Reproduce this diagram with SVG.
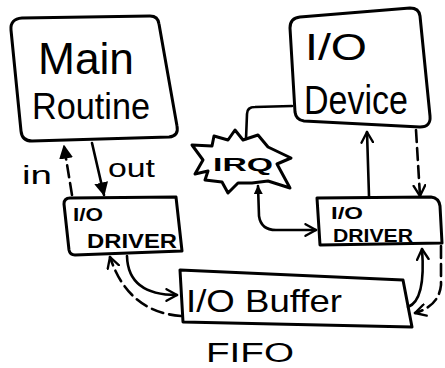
<svg xmlns="http://www.w3.org/2000/svg" width="445" height="368" viewBox="0 0 445 368">
<style>
.box{fill:none;stroke:#000;stroke-width:3;stroke-linejoin:round;stroke-linecap:round}
.ln{fill:none;stroke:#000;stroke-width:2.6;stroke-linecap:round}
.dash{stroke-dasharray:12 6}
.t{font-family:"Liberation Sans","DejaVu Sans",sans-serif;fill:#000}
</style>
<defs>
<marker id="fa" viewBox="0 0 10 10" refX="9" refY="5" markerWidth="14" markerHeight="14" markerUnits="userSpaceOnUse" orient="auto-start-reverse">
<path d="M0,0 L10,5 L0,10 z" fill="#000"/>
</marker>
<marker id="fs" viewBox="0 0 10 10" refX="9" refY="5" markerWidth="9" markerHeight="9" markerUnits="userSpaceOnUse" orient="auto-start-reverse">
<path d="M0,0 L10,5 L0,10 z" fill="#000"/>
</marker>
<marker id="oa" viewBox="0 0 12 12" refX="10" refY="6" markerWidth="14" markerHeight="14" markerUnits="userSpaceOnUse" orient="auto-start-reverse">
<path d="M1,1 L10,6 L1,11" fill="none" stroke="#000" stroke-width="2" stroke-linecap="round" stroke-linejoin="round"/>
</marker>
</defs>
<rect width="445" height="368" fill="#fff"/>
<g id="main-routine">
<path class="box" d="M22,18 L150,16 Q158,16 159,24 L177,126 Q179,136 169,137 L32,141 Q22,141 21,131 L11,30 Q10,19 22,18 z"/>
<text class="t" x="38" y="74" font-size="44" textLength="96" lengthAdjust="spacingAndGlyphs">Main</text>
<text class="t" x="32" y="119" font-size="36" textLength="118" lengthAdjust="spacingAndGlyphs">Routine</text>
</g>
<g id="io-device">
<path class="box" d="M300,17 L410,8 Q419,8 420,16 L430,116 Q431,127 420,127 L304,121 Q296,120 295,112 L290,28 Q290,18 300,17 z"/>
<text class="t" x="305" y="60" font-size="36" textLength="62" lengthAdjust="spacingAndGlyphs">I/O</text>
<text class="t" x="304" y="114" font-size="40" textLength="104" lengthAdjust="spacingAndGlyphs">Device</text>
</g>
<g id="irq">
<path class="box" d="M192,145 L212,146 L214,136 L228,140 L235,130 L243,140 L258,135 L268,147 L291,158 L277,164 L290,188 L268,181 L252,183 L238,183 L228,193 L222,182 L205,180 L208,171 L195,174 L203,160 z"/>
<text class="t" x="213" y="171" font-size="19" font-weight="bold" textLength="60" lengthAdjust="spacingAndGlyphs">IRQ</text>
</g>
<g id="driver-left">
<path class="box" d="M70,198 L176,197 L182,251 L75,255 Q70,255 69,250 L64,204 Q64,198 70,198 z"/>
<text class="t" x="73" y="221" font-size="19" font-weight="bold" textLength="30" lengthAdjust="spacingAndGlyphs">I/O</text>
<text class="t" x="87" y="248" font-size="20" font-weight="bold" textLength="90" lengthAdjust="spacingAndGlyphs">DRIVER</text>
</g>
<g id="driver-right">
<path class="box" d="M317,198 L431,197 Q439,198 440,206 L442,243 L320,245 z"/>
<text class="t" x="331" y="219" font-size="16" font-weight="bold" textLength="32" lengthAdjust="spacingAndGlyphs">I/O</text>
<text class="t" x="333" y="242" font-size="18" font-weight="bold" textLength="80" lengthAdjust="spacingAndGlyphs">DRIVER</text>
</g>
<g id="io-buffer">
<path class="box" d="M180,270 L403,280 L412,327 L183,322 z"/>
<text class="t" x="186" y="312" font-size="32" textLength="156" lengthAdjust="spacingAndGlyphs">I/O Buffer</text>
</g>
<text class="t" x="206" y="362" font-size="27" textLength="88" lengthAdjust="spacingAndGlyphs">FIFO</text>
<text class="t" x="22" y="184" font-size="26" textLength="30" lengthAdjust="spacingAndGlyphs">in</text>
<text class="t" x="108" y="177" font-size="26" textLength="47" lengthAdjust="spacingAndGlyphs">out</text>
<g id="connectors">
<path class="ln dash" d="M72,195 L64,146" marker-end="url(#fa)"/>
<path class="ln" d="M92,143 L104,195" marker-end="url(#fa)"/>
<path class="ln" d="M246,139 L247,114 Q247,107 255,107 L292,106"/>
<path class="ln" d="M258,186 L259,216 Q261,230 276,230 L316,230" marker-end="url(#oa)" marker-start="url(#fs)"/>
<path class="ln" d="M369,196 L367,132" marker-end="url(#oa)"/>
<path class="ln dash" d="M416,130 L420,196" marker-end="url(#oa)"/>
<path class="ln" d="M408,307 Q426,300 422,249" marker-end="url(#oa)"/>
<path class="ln dash" d="M441,246 L441,285 Q439,306 415,313" marker-end="url(#oa)"/>
<path class="ln dash" d="M181,316 Q128,312 110,257" marker-end="url(#oa)"/>
<path class="ln" d="M127,256 Q128,295 177,295" marker-end="url(#oa)"/>
</g>
</svg>
